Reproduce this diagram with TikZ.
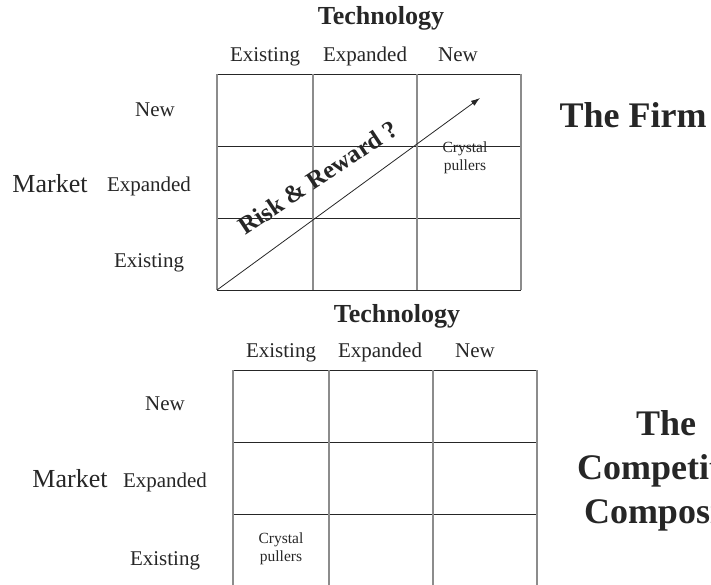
\documentclass[tikz,border=0pt]{standalone}
\usepackage{fontspec}
\setmainfont{Liberation Serif}
\usetikzlibrary{arrows.meta}

\tikzset{
  hline/.style={draw=black!85, line width=0.9pt},
  vline/.style={draw=black!45, line width=1.4pt},
  techtitle/.style={font=\fontsize{26}{28}\selectfont\bfseries, text=black!85, anchor=base, inner sep=0pt},
  marketlabel/.style={font=\fontsize{26}{28}\selectfont, text=black!85, anchor=base, inner sep=0pt},
  levellabel/.style={font=\fontsize{21}{24}\selectfont, text=black!85, anchor=base, inner sep=0pt},
  cellnote/.style={font=\fontsize{15.5}{18}\selectfont, text=black!85, align=center, inner sep=0pt},
  bigtitle/.style={font=\fontsize{36}{44}\selectfont\bfseries, text=black!85, align=center, anchor=base, inner sep=0pt}
}

\begin{document}
\begin{tikzpicture}[x=1pt, y=-1pt]
  \useasboundingbox (0,0) rectangle (711,585);
  \clip (0,0) rectangle (711,585);

  % firm matrix (top)
  \coordinate (F0) at (217,74);
  \coordinate (F1) at (521,290);
  \foreach \yy in {74,146,218,290}
    \draw[hline] (217,\yy) -- (521,\yy);
  \foreach \xx in {217,313,417,521}
    \draw[vline] (\xx,74) -- (\xx,290);

  \node[techtitle] (techF) at (381,25) {Technology};
  \node[levellabel] (colFa) at (265,62) {Existing};
  \node[levellabel] (colFb) at (365,62) {Expanded};
  \node[levellabel] (colFc) at (458,62) {New};
  \node[levellabel] (rowFa) at (155,117) {New};
  \node[levellabel] (rowFb) at (149,192) {Expanded};
  \node[levellabel] (rowFc) at (149,267) {Existing};
  \node[marketlabel] (mktF) at (50,193) {Market};
  \node[cellnote] (crystalF) at (465,158) {Crystal\\pullers};

  % diagonal: risk grows with newness
  \coordinate (tipF) at (480,98);
  \draw[black!85, line width=0.8pt, -{Latex[length=9pt,width=6pt]}] (F0 |- F1) -- (tipF);
  \node[font=\fontsize{25}{27}\selectfont\bfseries, text=black!85, rotate=33.5,
        anchor=base west, inner sep=0pt] (risk) at (245,236) {Risk \& Reward ?};

  \node[bigtitle] (firm) at (633,128) {The Firm};

  % competitor matrix (bottom)
  \foreach \yy in {370,442,514,586}
    \draw[hline] (233,\yy) -- (537,\yy);
  \foreach \xx in {233,329,433,537}
    \draw[vline] (\xx,370) -- (\xx,586);

  \node[techtitle] (techC) at (397,322) {Technology};
  \node[levellabel] (colCa) at (281,357) {Existing};
  \node[levellabel] (colCb) at (380,357) {Expanded};
  \node[levellabel] (colCc) at (475,357) {New};
  \node[levellabel] (rowCa) at (165,410) {New};
  \node[levellabel] (rowCb) at (165,487) {Expanded};
  \node[levellabel] (rowCc) at (165,565) {Existing};
  \node[marketlabel] (mktC) at (70,487) {Market};
  \node[cellnote] (crystalC) at (281,549) {Crystal\\pullers};

  % last line sits on the anchor
  \node[bigtitle] (comp) at (666,523) {The\\Competitor\\Composite};
\end{tikzpicture}
\end{document}
